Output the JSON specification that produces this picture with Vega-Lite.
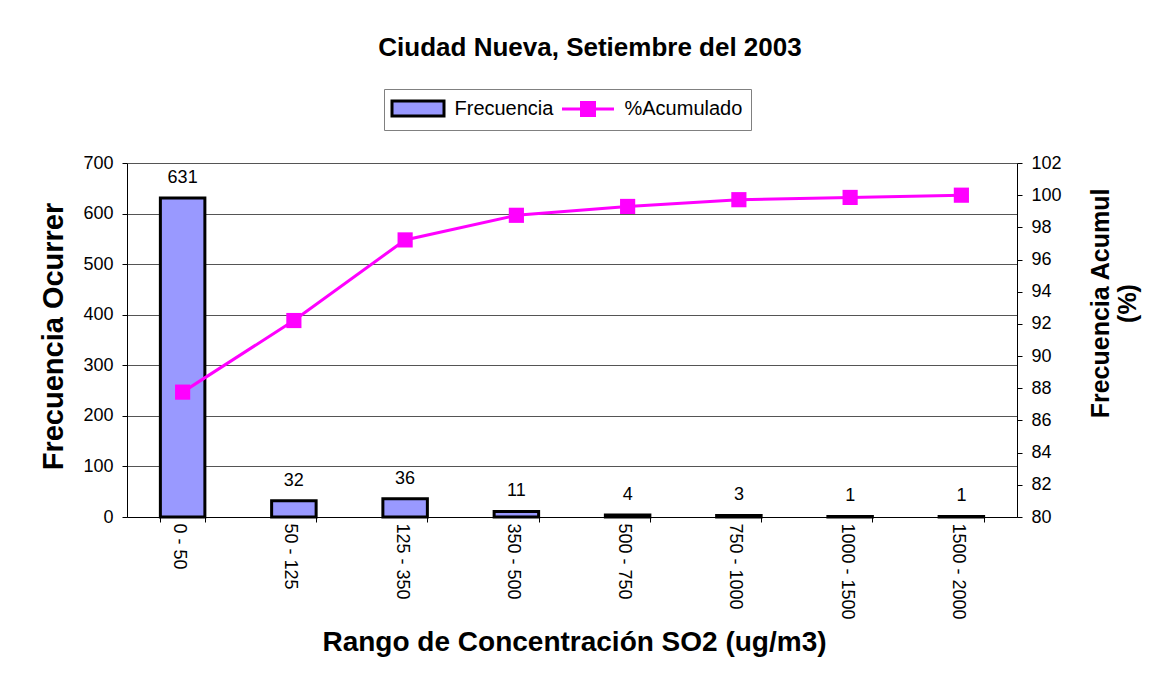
{
  "$schema": "https://vega.github.io/schema/vega-lite/v6.json",
  "width": 890,
  "height": 354,
  "autosize": {"type": "none"},
  "padding": {"left": 127, "top": 163, "right": 141, "bottom": 167},
  "background": "white",
  "title": {
    "text": "Ciudad Nueva, Setiembre del 2003",
    "font": "Liberation Sans",
    "fontSize": 26,
    "fontWeight": "bold",
    "color": "black",
    "anchor": "middle",
    "offset": 28,
    "dx": 18
  },
  "data": {
    "values": [
      {"rango": "0 - 50", "frecuencia": 631, "acumulado": 87.76},
      {"rango": "50 - 125", "frecuencia": 32, "acumulado": 92.21},
      {"rango": "125 - 350", "frecuencia": 36, "acumulado": 97.22},
      {"rango": "350 - 500", "frecuencia": 11, "acumulado": 98.75},
      {"rango": "500 - 750", "frecuencia": 4, "acumulado": 99.3},
      {"rango": "750 - 1000", "frecuencia": 3, "acumulado": 99.72},
      {"rango": "1000 - 1500", "frecuencia": 1, "acumulado": 99.86},
      {"rango": "1500 - 2000", "frecuencia": 1, "acumulado": 100}
    ]
  },
  "encoding": {
    "x": {
      "field": "rango",
      "type": "nominal",
      "sort": null,
      "scale": {"paddingInner": 0.6, "paddingOuter": 0.3},
      "axis": {
        "title": "Rango de Concentración SO2 (ug/m3)",
        "titleFont": "Liberation Sans",
        "titleFontSize": 28,
        "titleFontWeight": "bold",
        "titleColor": "black",
        "titleX": 447,
        "titleY": 133,
        "titleAlign": "center",
        "titleBaseline": "alphabetic",
        "labelAngle": 90,
        "labelAlign": "left",
        "labelBaseline": "middle",
        "labelFont": "Liberation Sans",
        "labelFontSize": 18,
        "labelColor": "black",
        "labelPadding": 1,
        "labelOffset": -4,
        "tickBand": "extent",
        "tickSize": 5,
        "tickColor": "black",
        "domainColor": "black",
        "grid": false
      }
    }
  },
  "layer": [
    {
      "encoding": {
        "y": {
          "field": "frecuencia",
          "type": "quantitative",
          "scale": {"domain": [0, 700], "nice": false},
          "axis": {
            "title": "Frecuencia Ocurrer",
            "titleFont": "Liberation Sans",
            "titleFontSize": 29,
            "titleFontWeight": "bold",
            "titleColor": "black",
            "titleAngle": -90,
            "titleX": -65,
            "titleY": 173,
            "titleAlign": "center",
            "titleBaseline": "alphabetic",
            "values": [0, 100, 200, 300, 400, 500, 600, 700],
            "labelFont": "Liberation Sans",
            "labelFontSize": 18,
            "labelColor": "black",
            "labelPadding": 9,
            "tickSize": 5,
            "tickColor": "black",
            "domainColor": "black",
            "grid": true,
            "gridColor": "#555555",
            "gridWidth": 1
          }
        }
      },
      "layer": [
        {
          "mark": {"type": "bar", "stroke": "black", "strokeWidth": 3},
          "encoding": {
            "color": {
              "datum": "Frecuencia",
              "type": "nominal",
              "scale": {"domain": ["Frecuencia", "%Acumulado"], "range": ["#9999FF", "#FF00FF"]},
              "legend": {
                "title": null,
                "orient": "none",
                "legendX": 257,
                "legendY": -74,
                "direction": "horizontal",
                "padding": 8,
                "strokeColor": "#808080",
                "fillColor": "white",
                "labelFont": "Liberation Sans",
                "labelFontSize": 20,
                "labelColor": "black",
                "labelOffset": 25,
                "symbolOffset": 14.5,
                "columnPadding": 2,
                "symbolSize": 400,
                "symbolOpacity": 1,
                "symbolStrokeWidth": 3,
                "symbolStrokeColor": {"expr": "datum.value === 'Frecuencia' ? 'black' : '#FF00FF'"},
                "symbolType": {"expr": "datum.value === 'Frecuencia' ? 'M-2.6,-0.75H2.6V0.75H-2.6Z' : 'M-2.6,0H2.6M-0.65,-0.65H0.65V0.65H-0.65Z'"}
              }
            }
          }
        },
        {
          "mark": {"type": "text", "font": "Liberation Sans", "fontSize": 18, "color": "black", "baseline": "alphabetic", "dy": -15},
          "encoding": {
            "text": {"field": "frecuencia", "type": "quantitative"}
          }
        }
      ]
    },
    {
      "mark": {"type": "line", "color": "#FF00FF", "strokeWidth": 3, "point": {"shape": "square", "size": 230, "filled": true, "opacity": 1, "color": "#FF00FF"}},
      "encoding": {
        "y": {
          "field": "acumulado",
          "type": "quantitative",
          "scale": {"domain": [80, 102], "nice": false, "zero": false},
          "axis": {
            "orient": "right",
            "title": ["Frecuencia Acumul", "(%)"],
            "titleFont": "Liberation Sans",
            "titleFontSize": 25,
            "titleFontWeight": "bold",
            "titleColor": "black",
            "titleAngle": -90,
            "titleX": 91,
            "titleY": 140,
            "titleAlign": "center",
            "titleBaseline": "alphabetic",
            "titleLineHeight": 27,
            "values": [80, 82, 84, 86, 88, 90, 92, 94, 96, 98, 100, 102],
            "labelFont": "Liberation Sans",
            "labelFontSize": 18,
            "labelColor": "black",
            "labelPadding": 9,
            "tickSize": 5,
            "tickColor": "black",
            "domainColor": "black",
            "grid": false
          }
        }
      }
    }
  ],
  "resolve": {"scale": {"y": "independent"}},
  "config": {
    "view": {"stroke": null},
    "axis": {"domainWidth": 1, "tickWidth": 1}
  }
}
